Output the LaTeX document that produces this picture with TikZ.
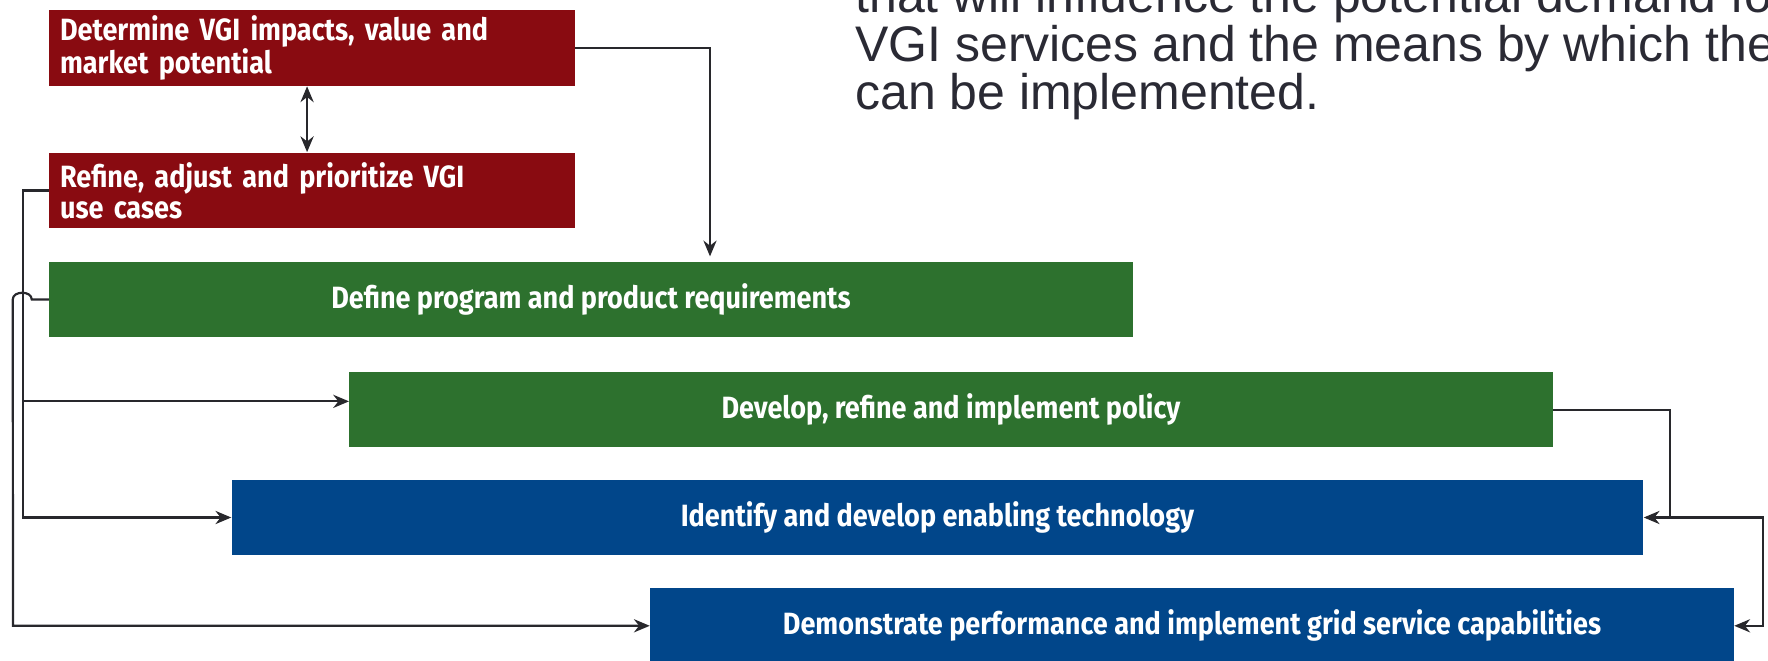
\documentclass[tikz,border=0pt]{standalone}
\usepackage{fontspec}
\setmainfont{Liberation Sans}
\newfontfamily\boxfont[FakeStretch=0.88]{Fira Sans}
\usetikzlibrary{arrows.meta}
\usetikzlibrary{calc}
\definecolor{connector}{RGB}{40,40,44}
\definecolor{notegray}{RGB}{42,42,52}
\definecolor{stepred}{RGB}{137,11,17}
\definecolor{stepgreen}{RGB}{45,113,46}
\definecolor{stepblue}{RGB}{1,70,138}

\begin{document}
\begin{tikzpicture}[x=0.02cm, y=-0.02cm,
    >={Stealth[length=9pt,width=7.5pt]},
    box/.style={inner xsep=0.22cm, inner ysep=0pt, minimum height=1.5cm, text=white,
        font=\boxfont\bfseries\fontsize{17.5}{17.6}\selectfont},
    redbox/.style={box, fill=stepred, text width=10.08cm, align=left, minimum height=1.52cm},
    greenbox/.style={box, fill=stepgreen, align=center},
    bluebox/.style={box, fill=stepblue, align=center},
    link/.style={draw=connector, line width=1.25pt},
    note/.style={inner sep=0pt, anchor=base west, text=notegray,
        font=\fontsize{28.45}{27.6}\selectfont}]

    \useasboundingbox (0,0) rectangle (1768,661);
    \clip (0,0) rectangle (1768,661);

    % running text beside the chart
    \node[note] (note1) at (855,13) {that will influence the potential demand for};
    \node[note] (note2) at (855,61.7) {VGI services and the means by which the};
    \node[note] (note3) at (855,110) {can be implemented.};

    % process steps
    \node[redbox] (box1) at (312,48) {Determine VGI impacts, value and\\market potential};
    \node[redbox] (box2) at (312,190.5) {Refine, adjust and prioritize VGI\\use cases};
    \node[greenbox, minimum width=21.68cm] (box3) at (591,299.5) {Define program and product requirements};
    \node[greenbox, minimum width=24.07cm] (box4) at (951,409.8) {Develop, refine and implement policy};
    \node[bluebox, minimum width=28.24cm] (box5) at (937.5,517.5) {Identify and develop enabling technology};
    \node[bluebox, minimum width=21.68cm] (box6) at (1192,625.8) {Demonstrate performance and implement grid service capabilities};

    % bus lines
    \coordinate (busA) at (23,0);
    \coordinate (busB) at (13,0);
    \coordinate (busC) at (1670,0);
    \coordinate (busD) at (1763,0);
    \coordinate (tip4) at ([yshift=4.8pt]box4.west);

    \draw[link, <->] ([xshift=-2.8pt]box1.south) -- ([xshift=-2.8pt]box2.north);
    \draw[link, ->, shorten >=3pt] (box1.east) -| ($(box3.north)+(119,0)$);

    \draw[link, ->] (box2.west) -| (busA |- box5.west) -- (box5.west);
    \draw[link, ->] (busA |- tip4) -- (tip4);
    \draw[link, ->] (box3.west) -- ++(-17,0) .. controls +(0,-9) and +(0,-9) .. ++(-19,0)
        -- (busB |- box6.west) -- (box6.west);

    \draw[link, ->] (box4.east) -| (busC |- box5.east) -- (box5.east);
    \draw[link, ->] (busC |- box5.east) -| (busD |- box6.east) -- (box6.east);

\end{tikzpicture}
\end{document}
